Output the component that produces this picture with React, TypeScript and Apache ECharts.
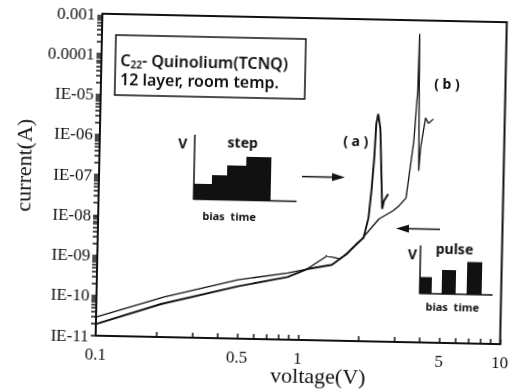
import React, { useEffect, useRef } from "react";
import * as echarts from "echarts";

// ---- data ----
const xTickValues = [0.1, 0.2, 0.3, 0.4, 0.5, 0.6, 0.7, 0.8, 0.9, 1, 2, 3, 4, 5, 6, 7, 8, 9, 10];
const xLabelValues = [0.1, 0.5, 1, 5, 10];
const xLabelTexts = ["0.1", "0.5", "1", "5", "10"];
const yDecades = [1e-11, 1e-10, 1e-9, 1e-8, 1e-7, 1e-6, 1e-5, 1e-4, 1e-3];
const yTickLabels = ["IE-11", "IE-10", "IE-09", "IE-08", "IE-07", "IE-06", "IE-05", "0.0001", "0.001"];
const yMinorMultipliers = [1, 2, 3, 4, 5, 6, 7, 8, 9];

// curve (a): step bias
const aVoltage = [0.1, 0.209, 0.5, 0.875, 1.09, 1.445, 1.71, 1.905, 2.06, 2.17, 2.23, 2.285, 2.32, 2.366, 2.43, 2.44, 2.53, 2.58, 2.7];
const aCurrent = [1.95e-11, 6.6e-11, 2.0e-10, 3.6e-10, 5.8e-10, 7.6e-10, 1.45e-9, 2.6e-9, 3.7e-9, 1.16e-8, 5.5e-8, 3.64e-7, 2.55e-6, 4.5e-6, 2.04e-6, 1.44e-6, 1.98e-8, 3.2e-8, 4.7e-8];

// curve (b): pulse bias
const bVoltage = [0.1, 0.216, 0.5, 0.875, 1.09, 1.365, 1.58, 1.744, 1.945, 2.245, 2.45, 2.86, 3.06, 3.31, 3.4, 3.57, 3.69, 3.72, 3.8, 3.86, 4.06, 4.2, 4.44];
const bCurrent = [2.9e-11, 9.9e-11, 2.9e-10, 4.5e-10, 5.8e-10, 1.26e-9, 1.08e-9, 1.63e-9, 2.75e-9, 6.6e-9, 1.12e-8, 1.8e-8, 2.4e-8, 3.8e-8, 1.2e-7, 1.0e-6, 1.77e-5, 4.6e-4, 1.82e-7, 6.8e-7, 3.8e-6, 2.8e-6, 3.6e-6];

const boxLine1 = "- Quinolium(TCNQ)";
const boxLine2 = "12 layer, room temp.";

const INK = "#111";
const SERIF = "'Liberation Serif', 'DejaVu Serif', serif";
const SANS = "'Noto Sans', 'Open Sans', sans-serif";

export default function App() {
  const ref = useRef<HTMLDivElement>(null);

  useEffect(() => {
    if (!ref.current) return;
    const chart = echarts.init(ref.current, null, { renderer: "svg" });

    const yTickValues: number[] = [];
    yDecades.slice(0, -1).forEach((d) => yMinorMultipliers.forEach((m) => yTickValues.push(d * m)));
    yTickValues.push(1e-3);

    const nearestIndex = (arr: number[], v: number) => {
      let best = 0;
      arr.forEach((a, i) => {
        if (Math.abs(Math.log10(a) - Math.log10(v)) < Math.abs(Math.log10(arr[best]) - Math.log10(v))) best = i;
      });
      return best;
    };

    const boldSans = (size: number) => ({ fontFamily: SANS, fontWeight: "bold", fontSize: size, fill: INK });

    const option: any = {
      animation: false,
      backgroundColor: "#fff",
      grid: {
        left: 99,
        right: 5,
        top: 18,
        bottom: 52,
        show: true,
        borderColor: INK,
        borderWidth: 2,
        backgroundColor: "transparent",
      },
      xAxis: {
        type: "log",
        logBase: 10,
        min: 0.1,
        max: 10,
        axisLine: { show: true, lineStyle: { color: INK, width: 2 } },
        axisTick: { show: true, inside: true, length: 5, customValues: xTickValues, lineStyle: { color: INK, width: 1.5 } },
        axisLabel: {
          customValues: xLabelValues,
          margin: 10,
          color: INK,
          fontFamily: SERIF,
          fontSize: 17,
          formatter: (v: number) => xLabelTexts[nearestIndex(xLabelValues, v)],
        },
        splitLine: { show: false },
      },
      yAxis: {
        type: "log",
        logBase: 10,
        min: 1e-11,
        max: 1e-3,
        axisLine: { show: true, lineStyle: { color: INK, width: 2 } },
        axisTick: { show: true, inside: false, length: 5, customValues: yTickValues, lineStyle: { color: INK, width: 1.5 } },
        axisLabel: {
          margin: 7,
          color: INK,
          fontFamily: SERIF,
          fontSize: 17,
          formatter: (v: number) => yTickLabels[nearestIndex(yDecades, v)],
        },
        splitLine: { show: false },
      },
      series: [
        {
          name: "(a)",
          type: "line",
          data: aVoltage.map((v, i) => [v, aCurrent[i]]),
          symbol: "none",
          silent: true,
          lineStyle: { color: INK, width: 1.9 },
        },
        {
          name: "(b)",
          type: "line",
          data: bVoltage.map((v, i) => [v, bCurrent[i]]),
          symbol: "none",
          silent: true,
          lineStyle: { color: INK, width: 1.3 },
        },
      ],
      graphic: [
        // axis names
        {
          type: "text",
          x: 23,
          y: 171,
          rotation: Math.PI / 2,
          style: { text: "current(A)", fontFamily: SERIF, fontSize: 22, fill: INK, align: "center", verticalAlign: "middle" },
        },
        {
          type: "text",
          x: 322,
          y: 375,
          style: { text: "voltage(V)", fontFamily: SERIF, fontSize: 22, fill: INK, align: "center", verticalAlign: "middle" },
        },
        // legend box
        {
          type: "rect",
          shape: { x: 113, y: 39, width: 190, height: 60 },
          style: { fill: "#fff", stroke: INK, lineWidth: 1.5 },
        },
        {
          type: "text",
          x: 118,
          y: 64,
          style: {
            text: "{c|C}{s|22}{c|" + boxLine1 + "}",
            align: "left",
            verticalAlign: "middle",
            rich: {
              c: { fontFamily: SANS, fontWeight: 600, fontSize: 16, fill: INK },
              s: { fontFamily: SANS, fontWeight: 600, fontSize: 10, fill: INK, padding: [7, 0, 0, 0] },
            },
          },
        },
        {
          type: "text",
          x: 118,
          y: 83,
          style: { text: boxLine2, fontFamily: SANS, fontWeight: 600, fontSize: 16, fill: INK, align: "left", verticalAlign: "middle" },
        },
        // step inset
        {
          type: "polygon",
          shape: {
            points: [[194, 201], [194, 186], [212, 186], [212, 177], [227, 177], [227, 167], [246, 167], [246, 158], [271, 158], [271, 201]],
          },
          style: { fill: INK },
        },
        { type: "line", shape: { x1: 194, y1: 137, x2: 194, y2: 202 }, style: { stroke: INK, lineWidth: 1.5 } },
        { type: "line", shape: { x1: 194, y1: 201.5, x2: 297, y2: 201.5 }, style: { stroke: INK, lineWidth: 1.5 } },
        { type: "text", x: 182, y: 145, style: { text: "V", ...boldSans(14), align: "center", verticalAlign: "middle" } },
        { type: "text", x: 242, y: 143, style: { text: "step", ...boldSans(14), align: "center", verticalAlign: "middle" } },
        { type: "text", x: 230, y: 217, style: { text: "bias  time", ...boldSans(11), align: "center", verticalAlign: "middle" } },
        // arrow right
        { type: "line", shape: { x1: 302, y1: 176.6, x2: 334, y2: 176.6 }, style: { stroke: INK, lineWidth: 1.5 } },
        { type: "polygon", shape: { points: [[332, 172.6], [345, 176.6], [332, 180.6]] }, style: { fill: INK } },
        // arrow left
        { type: "line", shape: { x1: 407, y1: 226.6, x2: 441, y2: 226.6 }, style: { stroke: INK, lineWidth: 1.5 } },
        { type: "polygon", shape: { points: [[410, 222.6], [397, 226.6], [410, 230.6]] }, style: { fill: INK } },
        // pulse inset
        { type: "rect", shape: { x: 422, y: 274.5, width: 12, height: 16.5 }, style: { fill: INK } },
        { type: "rect", shape: { x: 444, y: 267, width: 14, height: 24 }, style: { fill: INK } },
        { type: "rect", shape: { x: 469, y: 258.5, width: 15, height: 32.5 }, style: { fill: INK } },
        { type: "line", shape: { x1: 422, y1: 243, x2: 422, y2: 291.5 }, style: { stroke: INK, lineWidth: 1.5 } },
        { type: "line", shape: { x1: 422, y1: 291, x2: 495, y2: 291 }, style: { stroke: INK, lineWidth: 1.5 } },
        { type: "text", x: 414, y: 251, style: { text: "V", ...boldSans(14), align: "center", verticalAlign: "middle" } },
        { type: "text", x: 456, y: 245, style: { text: "pulse", ...boldSans(14), align: "center", verticalAlign: "middle" } },
        { type: "text", x: 455, y: 303, style: { text: "bias  time", ...boldSans(11), align: "center", verticalAlign: "middle" } },
        // curve labels
        { type: "text", x: 355, y: 139, style: { text: "( a )", ...boldSans(14), align: "center", verticalAlign: "middle" } },
        { type: "text", x: 445, y: 80, style: { text: "( b )", ...boldSans(14), align: "center", verticalAlign: "middle" } },
      ],
    };

    chart.setOption(option);
    return () => chart.dispose();
  }, []);

  return (
    <div
      ref={ref}
      style={{
        position: "fixed",
        left: 0,
        top: 0,
        width: 515,
        height: 392,
        background: "#fff",
        transform: "rotate(1.2deg)",
        transformOrigin: "304px 178px",
      }}
    />
  );
}
